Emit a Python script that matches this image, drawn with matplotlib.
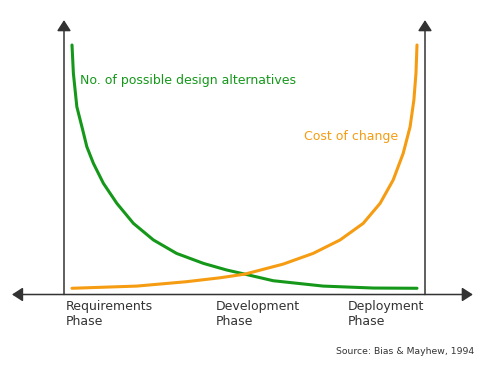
import matplotlib
matplotlib.use("Agg")
import matplotlib.pyplot as plt

# Project progress (0 = requirements, 1 = deployment) and relative values (0-100)
green_x = [0.0, 0.004, 0.014, 0.031, 0.043, 0.062, 0.091, 0.130, 0.178, 0.236,
           0.303, 0.381, 0.448, 0.501, 0.583, 0.728, 0.873, 1.0]
green_y = [100, 88.4, 74.7, 65.2, 58.3, 51.5, 43.3, 35.1, 26.9, 20.1,
           14.6, 10.5, 7.8, 6.1, 3.4, 1.2, 0.4, 0.3]

orange_x = [0.0, 0.188, 0.332, 0.429, 0.501, 0.612, 0.699, 0.777, 0.844, 0.893,
            0.931, 0.960, 0.980, 0.991, 0.997, 1.0]
orange_y = [0.3, 1.2, 3.0, 4.6, 6.1, 10.2, 14.6, 20.1, 26.9, 35.1,
            44.7, 55.6, 66.5, 77.5, 88.4, 100]

phase_labels = ["Requirements\nPhase", "Development\nPhase", "Deployment\nPhase"]
phase_pos = [-0.017, 0.417, 0.800]

green_label = "No. of possible design alternatives"
orange_label = "Cost of change"
source_text = "Source: Bias & Mayhew, 1994"

GREEN = "#15981a"
ORANGE = "#f59c12"
DARK = "#333333"

fig = plt.figure(figsize=(4.9, 3.71), dpi=100)
ax = fig.add_axes([0, 0, 1, 1])
ax.set_xlim(-0.2087, 1.2116)
ax.set_ylim(-33.6, 118.44)
ax.axis("off")

ax.plot(green_x, green_y, color=GREEN, lw=2.2, solid_capstyle="round", solid_joinstyle="round")
ax.plot(orange_x, orange_y, color=ORANGE, lw=2.2, solid_capstyle="round", solid_joinstyle="round")

arrow = dict(arrowstyle="-|>,head_length=0.65,head_width=0.42", color=DARK,
             lw=1.1, mutation_scale=10, shrinkA=0, shrinkB=0)
arrow2 = dict(arrowstyle="<|-|>,head_length=0.65,head_width=0.42", color=DARK,
              lw=1.1, mutation_scale=10, shrinkA=0, shrinkB=0)
y0 = -2.25
ax.annotate("", xy=(1.162, y0), xytext=(-0.174, y0), arrowprops=arrow2)
ax.annotate("", xy=(-0.0232, 110.2), xytext=(-0.0232, y0), arrowprops=arrow)
ax.annotate("", xy=(1.0232, 110.2), xytext=(1.0232, y0), arrowprops=arrow)

ax.text(0.023, 85.5, green_label, color=GREEN, fontsize=9, va="center", ha="left")
ax.text(0.672, 62.5, orange_label, color=ORANGE, fontsize=9, va="center", ha="left")

for lab, xp in zip(phase_labels, phase_pos):
    ax.text(xp, -4.3, lab, color=DARK, fontsize=9, va="top", ha="left", linespacing=1.25)

ax.text(1.165, -25.8, source_text, color=DARK, fontsize=6.7, va="center", ha="right")

fig.savefig("out.png", dpi=100)
